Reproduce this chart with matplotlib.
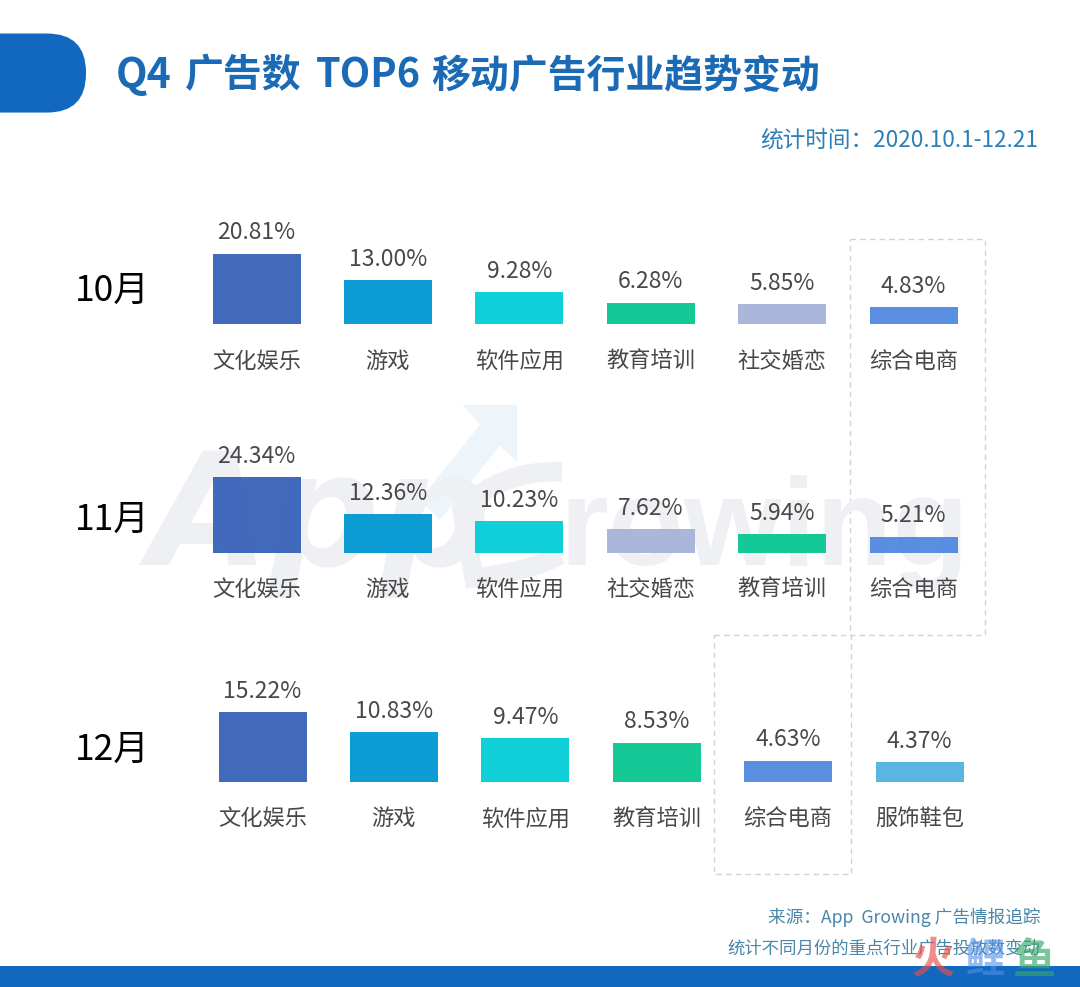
import matplotlib
matplotlib.use("Agg")
import matplotlib.pyplot as plt
from matplotlib.patches import FancyBboxPatch, Rectangle, Polygon, PathPatch
from matplotlib.path import Path

plt.rcParams['font.family'] = ['Noto Sans CJK SC', 'DejaVu Sans']

W, H = 1080, 987

months = ["10月", "11月", "12月"]
cats_oct = ["文化娱乐", "游戏", "软件应用", "教育培训", "社交婚恋", "综合电商"]
vals_oct = [20.81, 13.00, 9.28, 6.28, 5.85, 4.83]
cats_nov = ["文化娱乐", "游戏", "软件应用", "社交婚恋", "教育培训", "综合电商"]
vals_nov = [24.34, 12.36, 10.23, 7.62, 5.94, 5.21]
cats_dec = ["文化娱乐", "游戏", "软件应用", "教育培训", "综合电商", "服饰鞋包"]
vals_dec = [15.22, 10.83, 9.47, 8.53, 4.63, 4.37]

cat_colors = {
    "文化娱乐": "#3862b8",
    "游戏": "#0098d2",
    "软件应用": "#02cdd6",
    "教育培训": "#08c692",
    "社交婚恋": "#a6b3d8",
    "综合电商": "#5188e0",
    "服饰鞋包": "#50b2e2",
}

BLUE = "#1268bf"
TEXT = "#484848"
WM_GREY = "#eef0f4"
WM_BLUE = "#edf5fb"

fig = plt.figure(figsize=(W / 100, (H + 0.5) / 100), dpi=100, facecolor="white")

# background layer in pixel coordinates
bg = fig.add_axes([0, 0, 1, 1], zorder=0)
bg.set_xlim(0, W)
bg.set_ylim(H, 0)
bg.axis("off")

bg.add_patch(FancyBboxPatch((-80, 34), 166, 79, boxstyle="round,pad=0,rounding_size=39",
                            fc=BLUE, ec="none"))
bg.add_patch(Rectangle((0, 966), W, 21, fc=BLUE, ec="none"))

# title pieces have wider gaps than a normal space
title_parts = [("Q4", 116, 29.5), ("广告数", 185, 28), ("TOP6", 316, 28.5), ("移动广告行业趋势变动", 431, 28)]
for part, x, size in title_parts:
    bg.text(x, 76, part, fontsize=size, fontweight="bold", color="#1a6ab5", va="center", ha="left")
bg.text(1038, 140, "统计时间：2020.10.1-12.21", fontsize=16.3, color="#2c7fb8",
        va="center", ha="right")

# watermark
bg.text(148, 565, "App", fontsize=112, family="Liberation Sans Narrow", fontweight="bold",
        style="italic", color=WM_GREY, va="baseline", ha="left")
bg.text(560, 565, "rowing", fontsize=90, family="Liberation Sans", fontweight="bold",
        color=WM_GREY, va="baseline", ha="left")
g_arc = Path([(562, 472), (500, 470), (462, 510), (468, 545), (474, 578), (530, 572), (560, 555)],
             [Path.MOVETO, Path.CURVE3, Path.CURVE3, Path.CURVE3, Path.CURVE3, Path.CURVE3, Path.CURVE3])
bg.add_patch(PathPatch(g_arc, fc="none", ec=WM_GREY, lw=14))
bg.add_patch(Polygon([(462, 405), (517, 405), (517, 462), (500, 446), (440, 520), (420, 500), (480, 425)],
                     fc=WM_BLUE, ec="none"))

# dashed boxes around the 综合电商 rank change
for x0, y0, x1, y1 in [(850, 239, 985, 635), (714, 635, 851, 874)]:
    bg.add_patch(Rectangle((x0, y0), x1 - x0, y1 - y0, fc="none", ec="#d2d2d2", lw=1, ls=(0, (4, 3))))

bg.text(1040, 917, "来源：App  Growing 广告情报追踪", fontsize=12.7, color="#4a86a8", va="center", ha="right")
bg.text(1040, 948, "统计不同月份的重点行业广告投放数变动", fontsize=12.5, color="#4a86a8", va="center", ha="right")

# stamp in the lower right corner
bg.text(933, 960, "火", fontsize=31, fontweight="bold", color="#e8504a", alpha=0.65, va="center", ha="center", zorder=5)
bg.text(984, 960, "鲤", fontsize=29, fontweight="bold", color="#4f8fe8", alpha=0.6, va="center", ha="center", zorder=5)
bg.text(1034, 961, "鱼", fontsize=31, fontweight="bold", color="#35a868", alpha=0.65, va="center", ha="center", zorder=5)


def draw_row(month, cats, vals, left_c, base_y, px_per_unit, month_y, label_pad):
    spacing = 131.4
    ax_left = left_c - spacing / 2
    ax_w = spacing * 6
    ax_h = 130
    ax = fig.add_axes([ax_left / W, 1 - base_y / H, ax_w / W, ax_h / H], zorder=2)
    ax.patch.set_alpha(0)
    ax.set_xlim(-0.5, 5.5)
    ax.set_ylim(0, ax_h / px_per_unit)
    xs = list(range(len(vals)))
    bars = ax.bar(xs, vals, width=88 / spacing, color=[cat_colors[c] for c in cats], alpha=0.95)
    ax.bar_label(bars, labels=[f"{v:.2f}%" for v in vals], padding=7, fontsize=16.5,
                 color=TEXT)
    ax.set_xticks(xs)
    ax.set_xticklabels(cats, fontsize=16, color=TEXT)
    ax.tick_params(axis="x", length=0, pad=label_pad)
    ax.set_yticks([])
    for s in ax.spines.values():
        s.set_visible(False)
    bg.text(112, month_y, month, fontsize=25.5, color="black", va="center", ha="center")


draw_row(months[0], cats_oct, vals_oct, 256.5, 324, 3.36, 291, 18.5)
draw_row(months[1], cats_nov, vals_nov, 256.5, 553, 3.12, 520, 17.5)
draw_row(months[2], cats_dec, vals_dec, 262.5, 782, 4.6, 749, 18)

fig.savefig("out.png", dpi=100)
